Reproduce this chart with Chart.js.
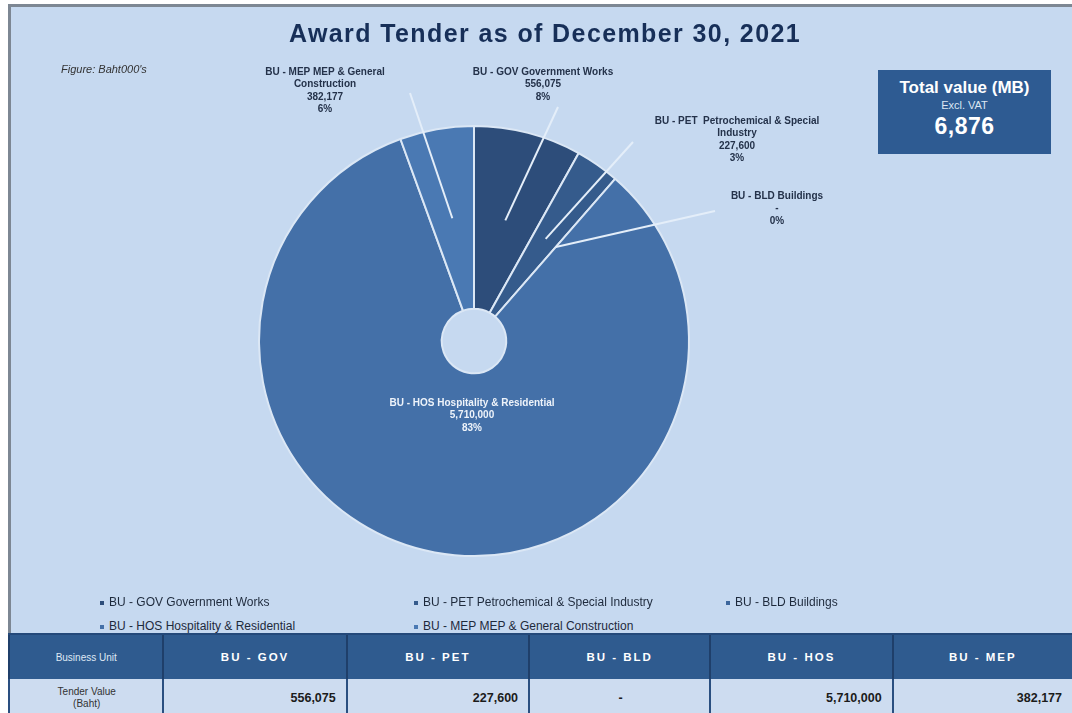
<!DOCTYPE html>
<html>
<head>
<meta charset="utf-8">
<script src="https://cdn.jsdelivr.net/npm/chart.js@4.4.1/dist/chart.umd.min.js"></script>
<style>
  body { margin: 0; background: #fff; font-family: Arial, "Liberation Sans", sans-serif; }
  #page { position: relative; width: 1072px; height: 713px; overflow: hidden; background: #fff; }
  #panel { position: absolute; left: 8px; top: 4px; width: 1070px; height: 715px; background: #c6d9f0;
           border-top: 3px solid #7d8793; border-left: 3px solid #7d8793; }
  #pie { position: absolute; left: 0; top: 0; }
  #title { position: absolute; left: 0; width: 1090px; top: 19px; text-align: center; font-weight: bold;
           font-size: 25px; letter-spacing: 1.4px; color: #172f58; }
  #note { position: absolute; left: 61px; top: 63px; font-size: 11px; font-style: italic; color: #333; }
  #total { position: absolute; left: 878px; top: 70px; width: 173px; height: 84px; background: #2e5b92;
           color: #fff; text-align: center; }
  #total .t1 { font-weight: bold; font-size: 17px; margin-top: 8px; }
  #total .t2 { font-size: 11px; color: #dce6f2; margin-top: 1px; }
  #total .t3 { font-weight: bold; font-size: 23px; margin-top: 2px; letter-spacing: 0.5px; }
  #legend { position: absolute; left: 0; top: 595px; width: 1072px; font-size: 12px; color: #1e2a3c; }
  #legend .item { position: absolute; white-space: nowrap; }
  #legend .dot { display: inline-block; width: 4px; height: 4px; margin-right: 5px; vertical-align: middle; }
  table { position: absolute; left: 8px; top: 633px; border-collapse: collapse; table-layout: fixed; }
  th { background: #2f5b8f; color: #fff; height: 42px; border-top: 2px solid #24497a;
       border-left: 2px solid #1f3f6a; font-size: 11.5px; letter-spacing: 2px; }
  th.first { font-weight: normal; font-size: 10px; letter-spacing: 0; color: #dfe8f4; }
  td { height: 36px; border-left: 2px solid #2a4f80; font-weight: bold; font-size: 12.5px; color: #1b1b1b;
       text-align: right; padding-right: 10px; background: #cddcf0; }
  td.first { font-weight: normal; font-size: 10px; text-align: center; padding-right: 0; color: #333;
             line-height: 12px; }
  td.dash { text-align: center; padding-left: 12px; }
</style>
</head>
<body>
<div id="page">
  <div id="panel"></div>
  <canvas id="pie" width="1072" height="600"></canvas>
  <div id="title">Award Tender as of December 30, 2021</div>
  <div id="note">Figure: Baht000's</div>
  <div id="total">
    <div class="t1">Total value (MB)</div>
    <div class="t2">Excl. VAT</div>
    <div class="t3" id="totalValue"></div>
  </div>
  <div id="legend"></div>
  <table id="tbl"></table>
</div>
<script>
// business units, names and tender values (Baht 000's)
const units = ["BU - GOV", "BU - PET", "BU - BLD", "BU - HOS", "BU - MEP"];
const unitNames = ["Government Works", " Petrochemical & Special Industry", "Buildings",
    "Hospitality & Residential", "MEP & General Construction"];
const tenderValues = [556075, 227600, 0, 5710000, 382177];
const sliceColors = ["#2d4d7a", "#355b8c", "#3c669c", "#4470a8", "#4a79b3"];

const total = tenderValues.reduce((a, b) => a + b, 0);
const fmt = (v) => v === 0 ? "-" : v.toLocaleString("en-US");
const pct = (v) => Math.round(v / total * 100) + "%";
const labels = units.map((u, i) => u + " " + unitNames[i]);

document.getElementById("totalValue").textContent = Math.round(total / 1000).toLocaleString("en-US");

// label placement, relative to the pie centre
const labelSpots = [
    { tx: 69, ty: -269, lx: 84, ly: -234, wrap: 300, color: "#24324a" },
    { tx: 263, ty: -220, lx: 159, ly: -199, wrap: 175, color: "#24324a" },
    { tx: 303, ty: -145, lx: 241, ly: -130, wrap: 300, color: "#24324a" },
    { tx: -2, ty: 62, lx: null, ly: null, wrap: 300, color: "#eef3fa" },
    { tx: -149, ty: -269, lx: -64, ly: -248, wrap: 140, color: "#24324a" },
];

function wrapText(ctx, text, maxWidth) {
    const words = text.split(" ");
    const lines = [];
    let line = "";
    words.forEach((w) => {
        const test = line ? line + " " + w : w;
        if (ctx.measureText(test).width > maxWidth && line) {
            lines.push(line);
            line = w;
        } else {
            line = test;
        }
    });
    if (line) lines.push(line);
    return lines;
}

const pieLabels = {
    id: "pieLabels",
    afterDatasetsDraw(chart) {
        const ctx = chart.ctx;
        const meta = chart.getDatasetMeta(0);
        const data = chart.data.datasets[0].data;
        ctx.save();
        meta.data.forEach((arc, i) => {
            const p = arc.getProps(["x", "y", "startAngle", "endAngle", "outerRadius"], true);
            const spot = labelSpots[i];
            const mid = (p.startAngle + p.endAngle) / 2;
            if (spot.lx !== null) {
                ctx.strokeStyle = "#e4eef9";
                ctx.lineWidth = 2;
                ctx.beginPath();
                ctx.moveTo(p.x + spot.lx, p.y + spot.ly);
                ctx.lineTo(p.x + Math.cos(mid) * p.outerRadius * 0.58, p.y + Math.sin(mid) * p.outerRadius * 0.58);
                ctx.stroke();
            }
            ctx.font = "bold 10px Arial, 'Liberation Sans'";
            ctx.fillStyle = spot.color;
            ctx.textAlign = "center";
            ctx.textBaseline = "middle";
            const lines = wrapText(ctx, chart.data.labels[i], spot.wrap);
            lines.push(fmt(data[i]));
            lines.push(pct(data[i]));
            lines.forEach((ln, k) => ctx.fillText(ln, p.x + spot.tx, p.y + spot.ty + k * 12.5));
        });
        ctx.restore();
    },
};

new Chart(document.getElementById("pie").getContext("2d"), {
    type: "doughnut",
    data: {
        labels: labels,
        datasets: [{
            data: tenderValues,
            backgroundColor: sliceColors,
            borderColor: "#dbe7f5",
            borderWidth: 2,
        }],
    },
    options: {
        responsive: false,
        animation: false,
        cutout: "15%",
        layout: { padding: { left: 258, right: 382, top: 125, bottom: 43 } },
        plugins: {
            legend: { display: false },
            tooltip: { enabled: false },
        },
    },
    plugins: [pieLabels],
});

// legend, three per row
const legend = document.getElementById("legend");
const legendCols = [100, 414, 726];
labels.forEach((lab, i) => {
    const el = document.createElement("div");
    el.className = "item";
    el.style.left = legendCols[i % 3] + "px";
    el.style.top = Math.floor(i / 3) * 24 + "px";
    el.innerHTML = '<span class="dot" style="background:' + sliceColors[i] + '"></span>' + lab;
    legend.appendChild(el);
});

// table
const colWidths = [155, 184, 183, 182, 183, 180];
let html = "<colgroup>" + colWidths.map((w) => '<col style="width:' + w + 'px">').join("") + "</colgroup>";
html += '<tr><th class="first">Business Unit</th>' + units.map((u) => "<th>" + u + "</th>").join("") + "</tr>";
html += '<tr><td class="first">Tender Value<br>(Baht)</td>' +
    tenderValues.map((v) => '<td class="' + (v === 0 ? "dash" : "") + '">' + fmt(v) + "</td>").join("") + "</tr>";
document.getElementById("tbl").innerHTML = html;
</script>
</body>
</html>
